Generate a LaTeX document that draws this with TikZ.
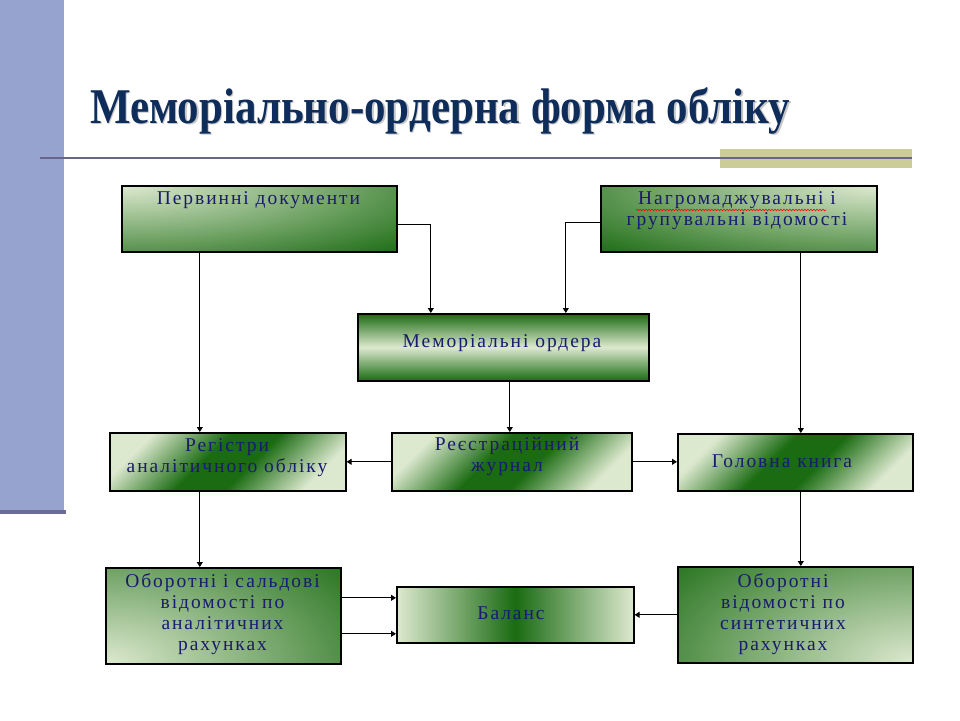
\documentclass[tikz,border=0pt]{standalone}
\usepackage{fontspec}
\setmainfont{Liberation Serif}
\newfontfamily\boxfont[LetterSpace=10]{Liberation Serif}
\usetikzlibrary{arrows.meta,decorations.pathmorphing}
\definecolor{lg}{HTML}{DDE9CF}
\definecolor{dg}{HTML}{1A6B12}
\definecolor{navy}{HTML}{1A1A6E}
\definecolor{titlec}{HTML}{0E2D5B}
\definecolor{barc}{HTML}{97A3CF}
\definecolor{barline}{HTML}{6B6B93}
\definecolor{rulec}{HTML}{66668A}
\definecolor{tanc}{HTML}{CCCC99}
\pgfdeclareverticalshading{vdark}{100bp}{color(0bp)=(dg); color(25bp)=(dg); color(50bp)=(lg); color(75bp)=(dg); color(100bp)=(dg)}
\pgfdeclareverticalshading{vlight}{100bp}{color(0bp)=(lg); color(25bp)=(lg); color(44bp)=(dg); color(56bp)=(dg); color(75bp)=(lg); color(100bp)=(lg)}
\pgfdeclarehorizontalshading{hlight}{100bp}{color(0bp)=(lg); color(25bp)=(lg); color(50bp)=(dg); color(75bp)=(lg); color(100bp)=(lg)}
\tikzset{
  box/.style={draw=black, line width=1.6pt, anchor=north west, inner sep=0pt},
  cornershade/.style n args={3}{path picture={\shade[inner color=lg, outer color=dg]
      (path picture bounding box.#1) ellipse [x radius=#2, y radius=#3];}},
  diagshade/.style={path picture={\shade[shading=vlight, shading angle=45]
      (path picture bounding box.south west) rectangle (path picture bounding box.north east);}},
  vertshade/.style={path picture={\shade[shading=vdark]
      (path picture bounding box.south west) rectangle (path picture bounding box.north east);}},
  horzshade/.style={path picture={\shade[shading=hlight]
      (path picture bounding box.south west) rectangle (path picture bounding box.north east);}},
  txt/.style={text=navy, font=\boxfont\fontsize{19.5}{21}\selectfont, align=center, inner sep=0pt},
  conn/.style={draw=black, line width=0.8pt, -{Triangle[width=6pt,length=5pt]}},
}
\begin{document}
\begin{tikzpicture}[x=1pt,y=-1pt]
\useasboundingbox (0,0) rectangle (960,720);
% decoration of the slide
\fill[barc] (0,0) rectangle (64,510);
\fill[barline] (0,510) rectangle (66,514);
\fill[tanc] (720,149) rectangle (912,168);
\fill[rulec] (40,156.5) rectangle (912,158.5);
% title
\node[anchor=base west, inner sep=0pt, text=black!22] (tshadow) at (91.5,124.5)
  {\resizebox{700pt}{\height}{\fontsize{50}{50}\selectfont\bfseries Меморіально-ордерна форма обліку}};
\node[anchor=base west, inner sep=0pt, text=titlec] (title) at (90,123)
  {\resizebox{700pt}{\height}{\fontsize{50}{50}\selectfont\bfseries Меморіально-ордерна форма обліку}};
% boxes
\node[box, minimum width=275pt, minimum height=66pt, cornershade={north west}{400pt}{95pt}] (b1) at (121,185) {};
\node[box, minimum width=276pt, minimum height=66pt, cornershade={north east}{400pt}{95pt}] (b2) at (600,185) {};
\node[box, minimum width=291pt, minimum height=67pt, vertshade] (b3) at (357,313) {};
\node[box, minimum width=236pt, minimum height=58pt, diagshade] (b4) at (109,432) {};
\node[box, minimum width=240pt, minimum height=58pt, diagshade] (b5) at (391,432) {};
\node[box, minimum width=235pt, minimum height=57pt, diagshade] (b6) at (677,433) {};
\node[box, minimum width=235pt, minimum height=96pt, cornershade={south west}{330pt}{170pt}] (b7) at (105,567) {};
\node[box, minimum width=237pt, minimum height=56pt, horzshade] (b8) at (396,586) {};
\node[box, minimum width=235pt, minimum height=96pt, cornershade={south east}{330pt}{170pt}] (b9) at (677,566) {};
% texts
\node[txt] (t1) at (258.5,200) {Первинні документи};
\node[txt] (t2) at (737,211) {Нагромаджувальні і\\групувальні відомості};
\node[txt] (t3) at (502,343) {Меморіальні ордера};
\node[txt] (t4) at (227,457.5) {Регістри\\аналітичного обліку};
\node[txt] (t5) at (507,456.5) {Реєстраційний\\журнал};
\node[txt] (t6) at (782,461) {Головна книга};
\node[txt] (t7) at (222.5,614.5) {Оборотні і сальдові\\відомості по\\аналітичних\\рахунках};
\node[txt] (t8) at (511,613) {Баланс};
\node[txt] (t9) at (783,614.5) {Оборотні\\відомості по\\синтетичних\\рахунках};
% spell-check underline
\draw[red, line width=0.6pt, decorate, decoration={snake, segment length=3pt, amplitude=0.8pt}]
  (636,210) -- (826,210);
% connectors
\draw[conn] ([xshift=-28pt]b4.north |- b1.south) -- ([xshift=-28pt]b4.north);
\draw[conn] ([yshift=-6pt]b1.east) -| ([xshift=-72.5pt]b3.north);
\draw[conn] ([yshift=-4pt]b2.west) -| ([xshift=62.5pt]b3.north);
\draw[conn] ([xshift=5.5pt]b6.north |- b2.south) -- ([xshift=5.5pt]b6.north);
\draw[conn] ([xshift=-2pt]b5.north |- b3.south) -- ([xshift=-2pt]b5.north);
\draw[conn] (b5.west) -- (b5.west -| b4.east);
\draw[conn] (b5.east) -- (b5.east -| b6.west);
\draw[conn] ([xshift=-23.5pt]b7.north |- b4.south) -- ([xshift=-23.5pt]b7.north);
\draw[conn] ([xshift=5.5pt]b9.north |- b6.south) -- ([xshift=5.5pt]b9.north);
\draw[conn] ([yshift=18pt]b7.east) -- ([yshift=18pt]b7.east -| b8.west);
\draw[conn] ([yshift=-18pt]b7.east) -- ([yshift=-18pt]b7.east -| b8.west);
\draw[conn] (b9.west) -- (b9.west -| b8.east);
\end{tikzpicture}
\end{document}
